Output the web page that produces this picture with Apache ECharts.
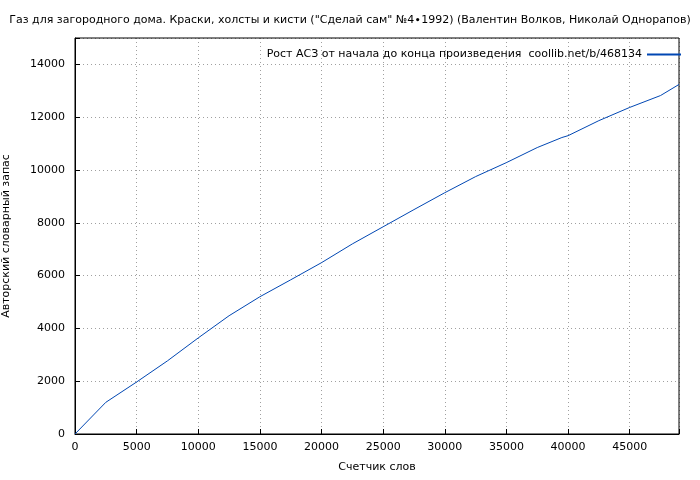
<!DOCTYPE html>
<html><head><meta charset="utf-8">
<script src="https://cdn.jsdelivr.net/npm/echarts@6/dist/echarts.min.js"></script>
<style>html,body{margin:0;background:#fff}#c{width:700px;height:480px}</style>
</head><body><div id="c"></div>
<script>
const words = [0, 1500, 2500, 5000, 7500, 10000, 12500, 15000, 17500, 20000, 22500, 25000, 27500, 30000, 32500, 35000, 37500, 39500, 40000, 42500, 45000, 47500, 49000]
const vocab = [0, 720, 1200, 1970, 2770, 3640, 4480, 5200, 5840, 6490, 7200, 7850, 8500, 9140, 9750, 10280, 10850, 11230, 11300, 11870, 12370, 12820, 13240]
const seriesName = 'Рост АСЗ от начала до конца произведения  coollib.net/b/468134'
const titleText = 'Газ для загородного дома. Краски, холсты и кисти ("Сделай сам" №4∙1992) (Валентин Волков, Николай Однорапов)'

const chart = echarts.init(document.getElementById('c'))
const font = 'DejaVu Sans'
const gridLine = { show: true, lineStyle: { color: '#a0a0a0', type: [1, 3], width: 1 } }
chart.setOption({
  animation: false,
  textStyle: { fontFamily: font },
  title: { text: titleText, left: 'center', top: 10, textStyle: { fontSize: 11, fontWeight: 'normal', color: '#000', fontFamily: font } },
  legend: {
    data: [seriesName], right: 14, top: 44, itemWidth: 34, itemHeight: 2, itemGap: 6,
    align: 'right', icon: 'rect',
    textStyle: { fontSize: 11, color: '#000', fontFamily: font }
  },
  grid: { left: 75, right: 21, top: 38, bottom: 46, containLabel: false, outerBoundsMode: 'none' },
  xAxis: {
    type: 'value', min: 0, max: 49000, interval: 5000,
    name: 'Счетчик слов', nameLocation: 'middle', nameGap: 28,
    nameTextStyle: { fontSize: 11, color: '#000' },
    axisLine: { show: true, lineStyle: { color: '#000' } },
    axisTick: { inside: true, length: 5, lineStyle: { color: '#000' } },
    axisLabel: { fontSize: 11, color: '#000', margin: 8, formatter: v => v % 5000 === 0 ? v : '' },
    splitLine: gridLine
  },
  yAxis: {
    type: 'value', min: 0, max: 15000, interval: 2000,
    name: 'Авторский словарный запас', nameLocation: 'middle', nameGap: 63,
    nameTextStyle: { fontSize: 11, color: '#000' },
    axisLine: { show: true, lineStyle: { color: '#000' } },
    axisTick: { inside: true, length: 5, lineStyle: { color: '#000' } },
    axisLabel: { fontSize: 11, color: '#000', margin: 10, formatter: v => v % 2000 === 0 ? v : '' },
    splitLine: gridLine
  },
  series: [{
    name: seriesName, type: 'line', showSymbol: false, smooth: false,
    color: '#0047b3', lineStyle: { width: 1, color: '#0047b3' },
    data: words.map((w, i) => [w, vocab[i]])
  }]
})
// top/right frame
chart.setOption({ graphic: [{ type: 'rect', shape: { x: 75, y: 38, width: 604, height: 396 }, style: { fill: 'none', stroke: '#000', lineWidth: 1 }, silent: true }] })
</script></body></html>
